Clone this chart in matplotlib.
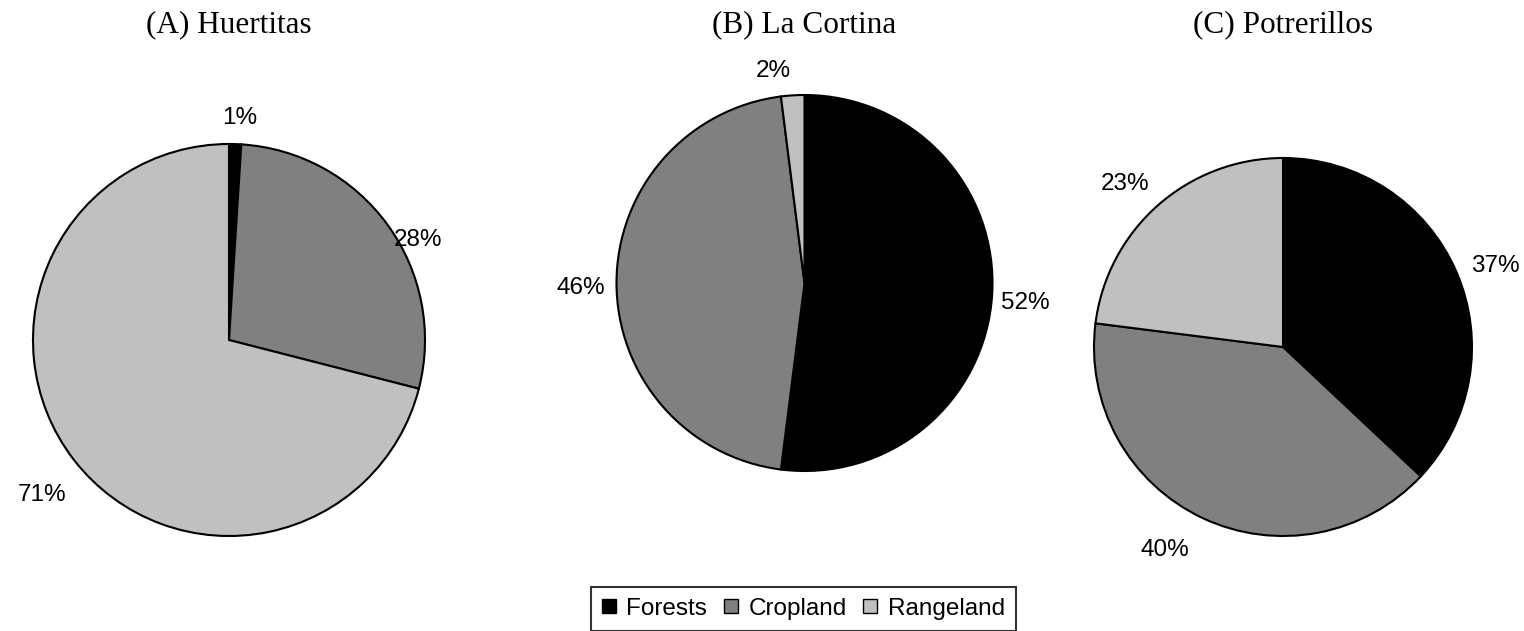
import numpy as np
import matplotlib
matplotlib.use("Agg")
import matplotlib.pyplot as plt
from matplotlib.lines import Line2D

categories = ["Forests", "Cropland", "Rangeland"]
titles = ["(A) Huertitas", "(B) La Cortina", "(C) Potrerillos"]
huertitas = [1, 28, 71]
la_cortina = [52, 46, 2]
potrerillos = [37, 40, 23]
colors = ["#000000", "#808080", "#c0c0c0"]

W, H = 1524, 631
fig = plt.figure(figsize=(W / 100, H / 100), dpi=100)

# layout: (center x px, center y px, radius px)
layouts = [(229, 340, 196), (804.5, 283, 188), (1283, 347, 189)]
# label placement: angular nudge (deg) and radial distance (in radii)
label_nudge = [[-1, -8, 1.8], [-1.6, 1.3, 4.7], [-2.5, -5, 2.7]]
label_dist = [[1.134, 1.091, 1.239], [1.18, 1.19, 1.14], [1.20, 1.24, 1.20]]
title_y = 25

for i, vals in enumerate([huertitas, la_cortina, potrerillos]):
    cx, cy, r = layouts[i]
    ax = fig.add_axes([(cx - r) / W, (H - cy - r) / H, 2 * r / W, 2 * r / H])
    wedges, _ = ax.pie(vals, colors=colors, startangle=90, counterclock=False,
                       wedgeprops=dict(edgecolor="black", linewidth=1.5))
    ax.set_xlim(-1, 1)
    ax.set_ylim(-1, 1)
    ax.axis("off")
    total = sum(vals)
    for j, w in enumerate(wedges):
        mid = (w.theta1 + w.theta2) / 2 + label_nudge[i][j]
        d = label_dist[i][j]
        x, y = d * np.cos(np.radians(mid)), d * np.sin(np.radians(mid))
        ax.text(x, y, f"{round(vals[j] / total * 100)}%", ha="center", va="center",
                fontsize=17.5, family="Liberation Sans", clip_on=False)
    fig.text(cx / W, 1 - title_y / H, titles[i], ha="center", va="center",
             fontsize=22.5, family="Liberation Serif")

handles = [Line2D([], [], linestyle="none", marker="s", markersize=10,
                  markerfacecolor=c, markeredgecolor="black", markeredgewidth=1.0)
           for c in colors]
leg = fig.legend(handles, categories, loc="upper center", bbox_to_anchor=(803.5 / W, 1 - 587 / H),
                 ncol=3, frameon=True, fancybox=False, edgecolor="black",
                 prop={"family": "Liberation Sans", "size": 17.5},
                 handlelength=0.55, handletextpad=0.45,
                 columnspacing=0.7, borderpad=0.45, borderaxespad=0)
leg.get_frame().set_linewidth(1.5)

fig.savefig("out.png", dpi=100)
